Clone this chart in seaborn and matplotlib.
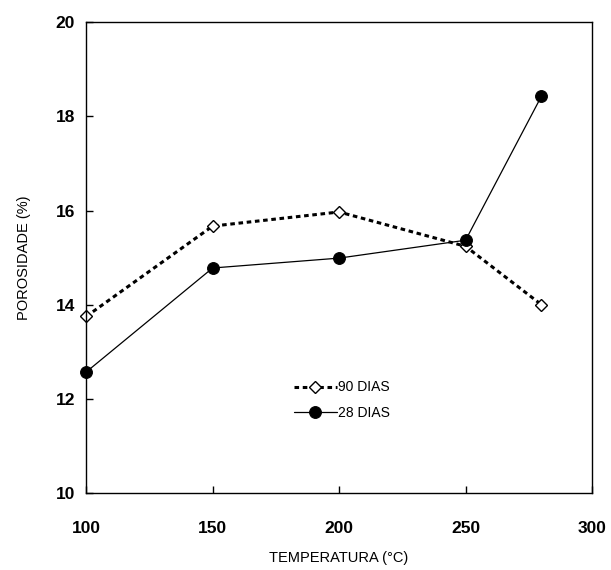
import matplotlib
matplotlib.use("Agg")
import matplotlib.pyplot as plt
import seaborn as sns
import pandas as pd

temps = [100, 150, 200, 250, 280]
dias90 = [13.75, 15.67, 15.97, 15.24, 14.0]
dias28 = [12.57, 14.78, 14.99, 15.37, 18.43]
xticks = [100, 150, 200, 250, 300]
yticks = [10, 12, 14, 16, 18, 20]

sns.set_theme(style="white")
plt.rcParams['font.family'] = ['Liberation Sans', 'DejaVu Sans']
plt.rcParams['text.color'] = 'black'
plt.rcParams['axes.labelcolor'] = 'black'

fig = plt.figure(figsize=(6.11, 5.7), dpi=100)
ax = fig.add_axes([0.141, 0.135, 0.828, 0.826])

df = pd.DataFrame({"t": temps, "d90": dias90, "d28": dias28})
sns.lineplot(data=df, x="t", y="d90", ax=ax, color="black", linestyle=(0, (1.5, 1.2)),
             linewidth=2.2, marker="D", markersize=6.5, markerfacecolor="white",
             markeredgecolor="black", markeredgewidth=1.0, label="90 DIAS", clip_on=False)
sns.lineplot(data=df, x="t", y="d28", ax=ax, color="black", linestyle="-",
             linewidth=0.9, marker="o", markersize=8.5, markerfacecolor="black",
             markeredgecolor="black", label="28 DIAS", clip_on=False)

ax.set_xlim(100, 300)
ax.set_ylim(10, 20)
ax.set_xticks(xticks)
ax.set_yticks(yticks)
ax.set_xticklabels([str(v) for v in xticks], fontweight="bold", fontsize=12.5)
ax.set_yticklabels([str(v) for v in yticks], fontweight="bold", fontsize=12.5)
ax.tick_params(direction="in", length=5, width=1, colors="black",
               bottom=True, left=True)
ax.tick_params(axis="x", pad=20)
ax.tick_params(axis="y", pad=8)
ax.set_xlabel("TEMPERATURA (°C)", fontsize=10.5, labelpad=11, color="black")
ax.set_ylabel("POROSIDADE (%)", fontsize=10.5, labelpad=18, color="black")
for s in ax.spines.values():
    s.set_color("black")
    s.set_linewidth(1.0)

leg = ax.legend(loc="upper left", bbox_to_anchor=(0.397, 0.254), frameon=False,
                fontsize=10, handlelength=3.1, handletextpad=0.1, labelspacing=0.85,
                borderpad=0)
for t in leg.get_texts():
    t.set_color("black")

fig.savefig("out.png", dpi=100)
